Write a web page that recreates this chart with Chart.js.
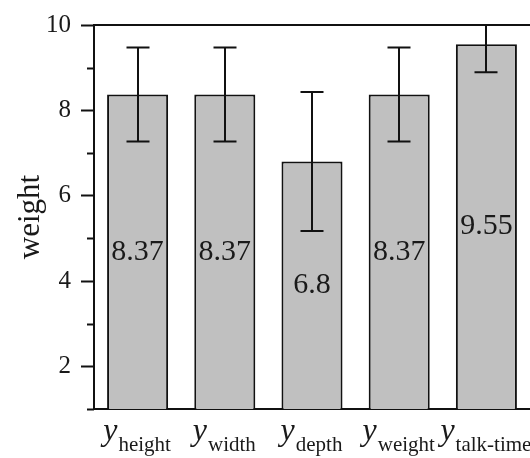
<!DOCTYPE html>
<html>
<head>
<meta charset="utf-8">
<script src="https://cdn.jsdelivr.net/npm/chart.js@4"></script>
<style>
  html, body { margin: 0; padding: 0; background: #fff; }
  #wrap { width: 530px; height: 458px; }
</style>
</head>
<body>
<div id="wrap"><canvas id="myChart"></canvas></div>
<script>
// subscripts for the y_xxx labels under each bar
const categorias = ['height', 'width', 'depth', 'weight', 'talk-time'];
const pesos = [8.37, 8.37, 6.8, 8.37, 9.55];
const errores = [1.1, 1.1, 1.63, 1.1, 0.66];
const marcasY = [2, 4, 6, 8, 10];

const serif = "'Liberation Serif', 'Times New Roman', serif";

// minor ticks, top frame line, error bars, value labels and x labels
const extras = {
    id: 'extras',
    afterDatasetsDraw(chart) {
        const ctx = chart.ctx;
        const area = chart.chartArea;
        const y = chart.scales.y;
        const x = chart.scales.x;
        const meta = chart.getDatasetMeta(0);

        ctx.save();
        ctx.strokeStyle = '#111';
        ctx.lineWidth = 2;

        // minor ticks on odd values
        for (let v = 1; v < 10; v += 2) {
            const py = Math.round(y.getPixelForValue(v)) + 0.5;
            ctx.beginPath();
            ctx.moveTo(area.left - 7, py);
            ctx.lineTo(area.left, py);
            ctx.stroke();
        }

        // top frame line
        ctx.beginPath();
        ctx.moveTo(area.left, area.top);
        ctx.lineTo(area.right, area.top);
        ctx.stroke();

        // error bars, clipped to the plot area
        ctx.save();
        ctx.beginPath();
        ctx.rect(area.left, area.top - 1, area.right - area.left, area.bottom - area.top + 1);
        ctx.clip();
        meta.data.forEach((bar, i) => {
            const top = y.getPixelForValue(pesos[i] + errores[i]);
            const bot = y.getPixelForValue(pesos[i] - errores[i]);
            const cx = Math.round(bar.x);
            ctx.beginPath();
            ctx.moveTo(cx, top);
            ctx.lineTo(cx, bot);
            ctx.moveTo(cx - 11.5, top);
            ctx.lineTo(cx + 11.5, top);
            ctx.moveTo(cx - 11.5, bot);
            ctx.lineTo(cx + 11.5, bot);
            ctx.stroke();
        });
        ctx.restore();

        // value labels centred in the visible part of each bar
        ctx.fillStyle = '#1a1a1a';
        ctx.font = '30px ' + serif;
        ctx.textAlign = 'center';
        ctx.textBaseline = 'middle';
        meta.data.forEach((bar, i) => {
            const mid = (bar.y + area.bottom) / 2;
            ctx.fillText(String(pesos[i]), bar.x, mid);
        });

        // category labels: italic y with a subscript
        ctx.textBaseline = 'alphabetic';
        ctx.textAlign = 'left';
        categorias.forEach((sub, i) => {
            const cx = x.getPixelForValue(i);
            ctx.font = 'italic 32px ' + serif;
            const wy = ctx.measureText('y').width;
            ctx.font = '21px ' + serif;
            const ws = ctx.measureText(sub).width;
            const start = cx - (wy + ws) / 2 - 1;
            ctx.font = 'italic 32px ' + serif;
            ctx.fillText('y', start, 440);
            ctx.font = '21px ' + serif;
            ctx.fillText(sub, start + wy + 1, 451);
        });

        ctx.restore();
    }
};

const chart = new Chart(document.getElementById('myChart'), {
    type: 'bar',
    data: {
        labels: categorias.map(c => 'y' + c),
        datasets: [{
            data: pesos,
            backgroundColor: '#c0c0c0',
            borderColor: '#111',
            borderWidth: 2,
            barPercentage: 0.7,
            categoryPercentage: 1
        }]
    },
    options: {
        responsive: true,
        maintainAspectRatio: false,
        animation: false,
        events: [],
        layout: { padding: { top: 25, right: 0, left: 0, bottom: 0 } },
        plugins: {
            legend: { display: false },
            tooltip: { enabled: false }
        },
        scales: {
            x: {
                grid: { display: false },
                border: { display: true, color: '#111', width: 2 },
                ticks: { display: false },
                afterFit(scale) { scale.height = 49; }
            },
            y: {
                min: 1,
                max: 10,
                afterFit(scale) { scale.width = 94; },
                afterBuildTicks(scale) {
                    scale.ticks = marcasY.map(v => ({ value: v }));
                },
                grid: {
                    drawOnChartArea: false,
                    drawTicks: true,
                    tickLength: 13,
                    tickWidth: 2,
                    tickColor: '#111'
                },
                border: { display: true, color: '#111', width: 2 },
                ticks: {
                    padding: 10,
                    color: '#1a1a1a',
                    font: { family: serif, size: 25 }
                },
                title: {
                    display: true,
                    text: 'weight',
                    color: '#1a1a1a',
                    font: { family: serif, size: 31, lineHeight: 1 },
                    padding: { top: 15, bottom: 0 }
                }
            }
        }
    },
    plugins: [extras]
});
</script>
</body>
</html>
